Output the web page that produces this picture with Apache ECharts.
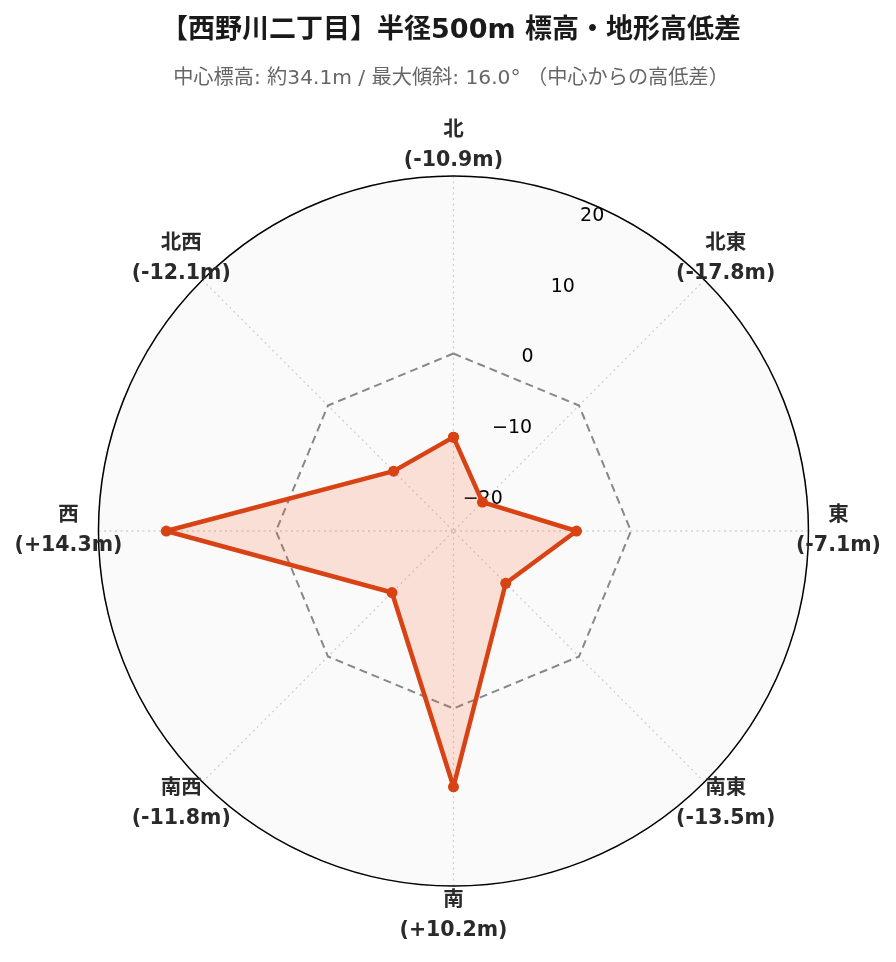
<!DOCTYPE html>
<html>
<head>
<meta charset="utf-8">
<script src="https://cdn.jsdelivr.net/npm/echarts@6/dist/echarts.min.js"></script>
<style>
html,body{margin:0;padding:0;background:#fff;}
#chart{width:896px;height:962px;}
</style>
</head>
<body>
<div id="chart"></div>
<script>
// ---- data ----
const directions = ['北', '北東', '東', '南東', '南', '南西', '西', '北西'];
const directionAngles = [0, 45, 90, 135, 180, 225, 270, 315];
const elevationDiff = [-10.9, -17.8, -7.1, -13.5, 10.2, -11.8, 14.3, -12.1];
const radialTicks = [-20, -10, 0, 10, 20];
const RADIUS_MIN = -23.14;
const RADIUS_MAX = 23.14;
const LABEL_RADIUS = 27.05;
const titleText = '【西野川二丁目】半径500m 標高・地形高低差';
const subtitleText = '中心標高: 約34.1m / 最大傾斜: 16.0° （中心からの高低差）';

const LATIN = 'DejaVu Sans, Noto Sans CJK JP, sans-serif';

const chart = echarts.init(document.getElementById('chart'), null, {renderer: 'canvas'});

const profilePts = elevationDiff.map((v, i) => [v, directionAngles[i]]);
profilePts.push([elevationDiff[0], 360]);
const zeroPts = directionAngles.map(a => [0, a]);
zeroPts.push([0, 360]);
const labelPts = directionAngles.map(a => [LABEL_RADIUS, a]);

function fmtTick(v) {
  const r = Math.round(v * 1000) / 1000;
  if (radialTicks.indexOf(r) < 0) return '';
  return r < 0 ? '\u2212' + Math.abs(r) : String(r);
}

const center = ['50.61%', '55.2%'];

chart.setOption({
  backgroundColor: '#ffffff',
  animation: false,
  title: {
    text: titleText,
    subtext: subtitleText,
    left: 446,
    top: 12,
    textAlign: 'center',
    itemGap: 25,
    textStyle: {fontFamily: LATIN, fontSize: 27, fontWeight: 'bold', color: '#1a1a1a'},
    subtextStyle: {fontFamily: LATIN, fontSize: 20.2, color: '#666'}
  },
  polar: [
    {center: center, radius: 355},
    {center: center, radius: 355}
  ],
  angleAxis: [
    {
      polarIndex: 0,
      type: 'value',
      min: 0,
      max: 360,
      interval: 45,
      startAngle: 90,
      clockwise: true,
      axisLine: {show: true, lineStyle: {color: '#000', width: 1.5}},
      axisTick: {show: false},
      axisLabel: {show: false},
      splitLine: {show: true, lineStyle: {color: '#cfcfcf', width: 1.3, type: [2, 3.5]}}
    },
    {
      polarIndex: 1,
      type: 'value',
      min: 0,
      max: 360,
      interval: 45,
      startAngle: 67.5,
      clockwise: true,
      show: false
    }
  ],
  radiusAxis: [
    {
      polarIndex: 0,
      type: 'value',
      min: RADIUS_MIN,
      max: RADIUS_MAX,
      axisLine: {show: false},
      axisTick: {show: false},
      axisLabel: {show: false},
      splitLine: {show: true, lineStyle: {color: '#cfcfcf', width: 1.3, type: [2, 3.5]}},
      splitArea: {show: true, areaStyle: {color: ['#fafafa']}}
    },
    {
      polarIndex: 1,
      type: 'value',
      min: RADIUS_MIN,
      max: RADIUS_MAX,
      z: 1,
      axisLine: {show: false},
      axisTick: {show: false},
      splitLine: {show: false},
      axisLabel: {
        show: true,
        margin: 0,
        align: 'left',
        verticalAlign: 'bottom',
        showMinLabel: true,
        showMaxLabel: true,
        fontFamily: LATIN,
        fontSize: 19,
        color: '#000',
        formatter: fmtTick
      }
    }
  ],
  series: [
    {
      name: 'zero',
      type: 'line',
      coordinateSystem: 'polar',
      polarIndex: 0,
      data: zeroPts,
      symbol: 'none',
      silent: true,
      z: 3,
      lineStyle: {color: '#888', width: 2, type: [8, 5]}
    },
    {
      name: 'profile',
      type: 'line',
      coordinateSystem: 'polar',
      polarIndex: 0,
      data: profilePts,
      symbol: 'circle',
      symbolSize: 11,
      z: 4,
      itemStyle: {color: '#d84315'},
      lineStyle: {color: '#d84315', width: 4.5},
      areaStyle: {color: 'rgba(255,87,34,0.16)', opacity: 1, origin: 'start'}
    },
    {
      name: 'labels',
      type: 'scatter',
      coordinateSystem: 'polar',
      polarIndex: 0,
      data: labelPts,
      symbolSize: 1,
      clip: false,
      silent: true,
      itemStyle: {color: 'rgba(0,0,0,0)'},
      label: {
        show: true,
        position: 'inside',
        fontFamily: LATIN,
        fontSize: 20.5,
        fontWeight: 'bold',
        color: '#2a2a2a',
        opacity: 1,
        textBorderWidth: 0,
        lineHeight: 30,
        formatter: function (p) {
          const v = elevationDiff[p.dataIndex];
          const s = (v > 0 ? '+' : '') + v.toFixed(1);
          return directions[p.dataIndex] + '\n(' + s + 'm)';
        }
      }
    }
  ]
});
</script>
</body>
</html>
